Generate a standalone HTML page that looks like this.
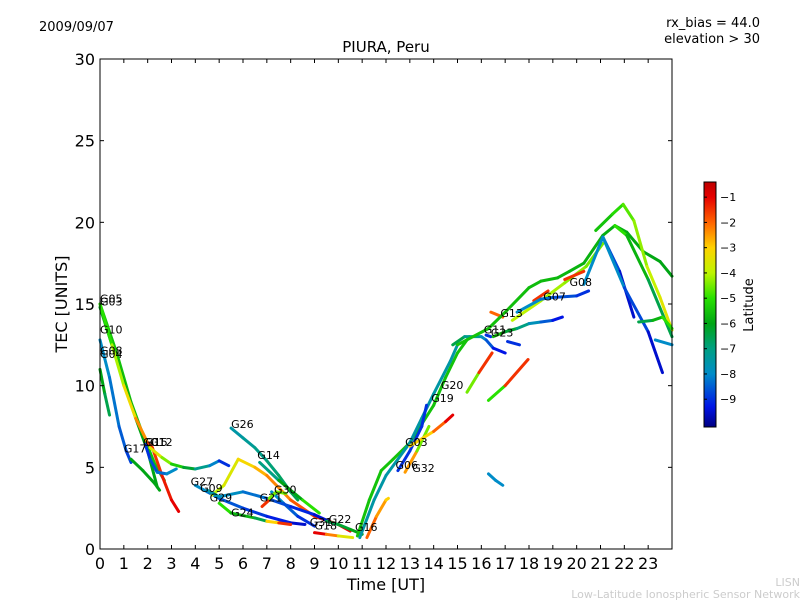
<!DOCTYPE html>
<html><head><meta charset="utf-8"><style>
body{margin:0;background:#fff;width:800px;height:600px;overflow:hidden;font-family:"Liberation Sans","DejaVu Sans",sans-serif}
</style></head><body>
<svg id="chart" width="800" height="600" xmlns="http://www.w3.org/2000/svg" font-family="DejaVu Sans, Liberation Sans, sans-serif">
<defs><linearGradient id="jet" x1="0" y1="1" x2="0" y2="0"></linearGradient></defs>
<text x="39" y="31" font-size="13">2009/09/07</text>
<text x="760" y="27" font-size="13" text-anchor="end">rx_bias = 44.0</text>
<text x="760" y="43" font-size="13" text-anchor="end">elevation &gt; 30</text>
<text x="386" y="52" font-size="15" text-anchor="middle">PIURA, Peru</text>
<text transform="translate(67,304) rotate(-90)" font-size="16" text-anchor="middle">TEC [UNITS]</text>
<text x="386" y="590" font-size="16" text-anchor="middle">Time [UT]</text>
<text x="800" y="586" font-size="11" fill="#ccc" text-anchor="end">LISN</text>
<text x="800" y="598" font-size="11" fill="#ccc" text-anchor="end">Low-Latitude Ionospheric Sensor Network</text>
<g id="plot"></g>
<rect x="100" y="59" width="572" height="490" fill="none" stroke="#000" stroke-width="1"/>
<g id="axes"></g>
<rect x="704" y="182" width="12" height="245" fill="url(#jet)" stroke="#000" stroke-width="1"/>
<text transform="translate(753,305) rotate(-90)" font-size="13" text-anchor="middle">Latitude</text>
<g id="cbticks"></g>
</svg>
<script>
const xTicks=[0,1,2,3,4,5,6,7,8,9,10,11,12,13,14,15,16,17,18,19,20,21,22,23];
const yTicks=[0,5,10,15,20,25,30];
const cbTicks=[-1,-2,-3,-4,-5,-6,-7,-8,-9];
const latMin=-10.1, latMax=-0.4;
const trackLats=[[-5.5,-5.5],[-8,-8.8],[-6,-6],[-6,-6.5],[-5,-1.5],[-1.5,-1],[-3.5,-9],[-9,-8],[-6,-6],
[-8,-9.5],[-7.5,-6.5],[-7,-5],[-4,-1],[-5,-6.5],[-3,-1.5],[-8,-9],[-7.5,-9.5],[-1.5,-1.5],[-4.5,-4.5],[-1,-3.5],[-6.5,-6],
[-5.5,-5.5],[-2,-3],[-7.5,-7.5],[-9,-9],[-2.5,-4.5],[-3,-1],[-4.5,-1.5],[-5,-1.5],[-8,-8],[-2,-1.5],[-9,-9],[-5.5,-9.3],[-6.5,-9.3],[-5.5,-6],[-5.5,-3.5],[-5,-6.5],[-1.5,-1],[-4,-4.5],[-8,-9],[-1.5,-4.5],[-8,-9.5],[-8,-9.5],[-6.5,-5],[-8,-8],[-9,-9]];
const trackTimes=[
[0,0.7,1.3,1.8,2.3,2.7],
[0,0.4,0.8,1.1,1.3],
[0,0.5,1,1.5,2,2.4],
[0,0.2,0.4],
[0,0.5,1,1.5,2,2.2],
[2.2,2.6,3,3.3],
[2.1,2.6,3,3.5,4,4.6,5,5.4],
[1.9,2.1,2.4,2.8,3.2],
[1.3,1.8,2.3,2.5],
[4,4.5,5,6,7,8,8.6],
[5.5,6,6.5,7,7.5,8,8.3],
[6.7,7.5,8.5,9.2],
[4.7,5.2,5.8,6.5,7,8,9,10,10.5],
[5,5.5,6.5,7],
[7,7.5,8],
[7.2,7.7,8.3,9],
[4.5,5,6,7,8,9,9.6],
[6.8,7.1],
[7.1,7.4,7.8],
[9,9.5,10,10.6],
[9.5,10,10.5,11],
[10.8,11.3,11.8,12.3,13,14,14.5,15,15.5],
[11.2,11.6,12,12.1],
[10.9,11.5,12,13,13.5,14,14.7,15],
[12.5,13,13.5,13.7],
[12.8,13.3,13.8],
[13,14,14.5,14.8],
[15.4,15.9,16.45],
[16.3,17,17.96],
[16.3,16.6,16.9],
[16.4,16.9],
[16.2,16.4],
[16.5,17,17.5,18,18.5,19,19.4],
[14.8,15.3,16,16.2,16.5,17],
[15,16.3,17,18,18.5,19.2,19.7,20.3,21.1,21.6,22.1,22.8,23.5,24],
[20.8,21.5,21.95,22.4,22.95,23.5,24],
[21.6,22.1,23,24],
[18.2,18.8],
[17.3,18.5,19.5,20.4,21.1],
[17.5,18.5,19,20,20.5],
[19.5,20.3],
[20.3,21.1,21.8,22.4],
[21.1,22,23,23.6],
[22.6,23.2,23.6,24],
[23.3,24],
[17.1,17.6]];
const trackTec=[
[15,12,9,7,5.2,4.2],
[12.8,10.5,7.5,6,5.3],
[14.8,12.5,10.2,8,6,3.8],
[11,9.5,8.2],
[15,12.5,10,8,6.5,6.2],
[6.2,4.5,3,2.3],
[6.2,5.6,5.2,5,4.9,5.1,5.4,5.1],
[6.4,5.5,4.7,4.6,4.9],
[5.5,4.8,4,3.6],
[3.9,3.5,3.1,2.5,2,1.6,1.5],
[7.4,6.8,6.2,5.4,4.5,3.5,3],
[5.3,4.2,3,2.2],
[3.3,3.9,5.5,5,4.5,3,2,1.5,1.1],
[2.8,2.2,1.9,1.7],
[1.7,1.6,1.5],
[3.5,2.8,2,1.4],
[3.6,3.2,3.5,3.1,2.6,2.1,1.7],
[2.6,3],
[3.1,3.5,3.4],
[1,0.9,0.8,0.7],
[1.7,1.5,1.2,0.9],
[0.8,3,4.8,5.5,6.5,8.8,10.5,12,13],
[0.7,2,3,3.1],
[0.7,3,4.5,6.5,8,9.5,11.5,12.5],
[4.8,6,7.5,8.8],
[4.7,6,7.5],
[6.3,7.2,7.8,8.2],
[9.6,10.8,12],
[9.1,10,11.6],
[4.6,4.2,3.9],
[14.5,14.2],
[13.1,13],
[13,13.3,13.5,13.8,13.9,14,14.2],
[12.5,13,13,12.8,12.3,12],
[12.5,13.5,14.5,16,16.4,16.6,17,17.5,19.2,19.8,19.4,18.2,17.6,16.7],
[19.5,20.5,21.1,20.1,17.3,15.4,13.4],
[19.8,19.2,16.5,13],
[15.2,15.8],
[14,15.2,16.3,17.3,18.7],
[14.5,15.3,15.4,15.5,15.8],
[16.5,17],
[16.2,19.1,17,14.2],
[19.1,16,13.3,10.8],
[13.9,14,14.2,13.5],
[12.8,12.5],
[12.7,12.5]];
const X0=100,X1=672,Y0=549,Y1=59;
const xs=t=>X0+t*(X1-X0)/24, ys=v=>Y0-v*(Y0-Y1)/30;
const cy=l=>427-(l-latMin)/(latMax-latMin)*245;
const cmapL=[-10.1,-9.3,-8,-7,-6,-5,-4,-3,-2,-1,-0.4];
const cmapC=[[0,0,130],[0,20,230],[0,140,200],[0,160,130],[0,165,20],[40,225,0],[190,245,0],[255,210,0],[255,100,0],[230,0,0],[190,0,0]];
function jet(l){l=Math.max(latMin,Math.min(latMax,l));let i=0;while(i<cmapL.length-2&&l>cmapL[i+1])i++;
 const f=(l-cmapL[i])/(cmapL[i+1]-cmapL[i]);const a=cmapC[i],b=cmapC[i+1];
 return 'rgb('+a.map((v,k)=>Math.round(v+(b[k]-v)*f)).join(',')+')';}
const NS='http://www.w3.org/2000/svg';
const grad=document.getElementById('jet');
cmapL.forEach(l=>{const s=document.createElementNS(NS,'stop');s.setAttribute('offset',(l-latMin)/(latMax-latMin));s.setAttribute('stop-color',jet(l));grad.appendChild(s);});
const plot=document.getElementById('plot'),axes=document.getElementById('axes'),cb=document.getElementById('cbticks');
function mk(tag,attrs,parent){const e=document.createElementNS(NS,tag);for(const k in attrs)e.setAttribute(k,attrs[k]);parent.appendChild(e);return e;}
trackTimes.forEach((ts,i)=>{const vs=trackTec[i],[a,b]=trackLats[i];const n=ts.length;
 const g=mk('g',{},plot);
 
 
 for(let j=0;j<n-1;j++){const f=n>2?j/(n-2):0;const l=a+(b-a)*f;
  const s=mk('line',{x1:xs(ts[j]),y1:ys(vs[j]),x2:xs(ts[j+1]),y2:ys(vs[j+1]),stroke:jet(l),'stroke-width':3,'stroke-linecap':'round'},g);
  
  }
});
const labelNames=['G05','G03','G10','G08','G04','G17','G01','G15','G12','G26','G14','G27','G09','G29','G24','G30','G21','G31','G18','G22','G16','G03','G06','G32','G20','G19','G11','G23','G13','G07','G08'];
const labelT=[0,0,0,0,0,1,1.8,1.9,2.1,5.5,6.6,3.8,4.2,4.6,5.5,7.3,6.7,8.8,9,9.6,10.7,12.8,12.4,13.1,14.3,13.9,16.1,16.4,16.8,18.6,19.7];
const labelV=[15.1,14.9,13.2,11.9,11.7,5.9,6.3,6.3,6.3,7.4,5.5,3.9,3.5,2.9,2.0,3.4,2.9,1.4,1.2,1.6,1.1,6.3,4.9,4.7,9.8,9.0,13.2,13.0,14.2,15.2,16.1];
labelNames.forEach((nm,i)=>{const t=mk('text',{x:xs(labelT[i]),y:ys(labelV[i]),'font-size':11},plot);t.textContent=nm;
 
 });
xTicks.forEach(t=>{const x=xs(t);
 const a=mk('line',{x1:x,y1:Y0,x2:x,y2:Y0-4,stroke:'#000'},axes);
 
 
 const b=mk('line',{x1:x,y1:Y1,x2:x,y2:Y1+4,stroke:'#000'},axes);
 
 
 const l=mk('text',{x:x,y:569,'font-size':16,'text-anchor':'middle'},axes);l.textContent=t;
 
 });
yTicks.forEach(v=>{const y=ys(v);
 const a=mk('line',{x1:X0,y1:y,x2:X0+4,y2:y,stroke:'#000'},axes);
 
 
 const b=mk('line',{x1:X1,y1:y,x2:X1-4,y2:y,stroke:'#000'},axes);
 
 
 const l=mk('text',{x:95,y:y+6,'font-size':16,'text-anchor':'end'},axes);l.textContent=v;
 
 });
cbTicks.forEach(v=>{const y=cy(v);
 const a=mk('line',{x1:704,y1:y,x2:707,y2:y,stroke:'#000'},cb);
 
 
 const l=mk('text',{x:720,y:y+4,'font-size':11},cb);l.textContent='\u2212'+(-v);
 
 });
</script>
</body></html>
